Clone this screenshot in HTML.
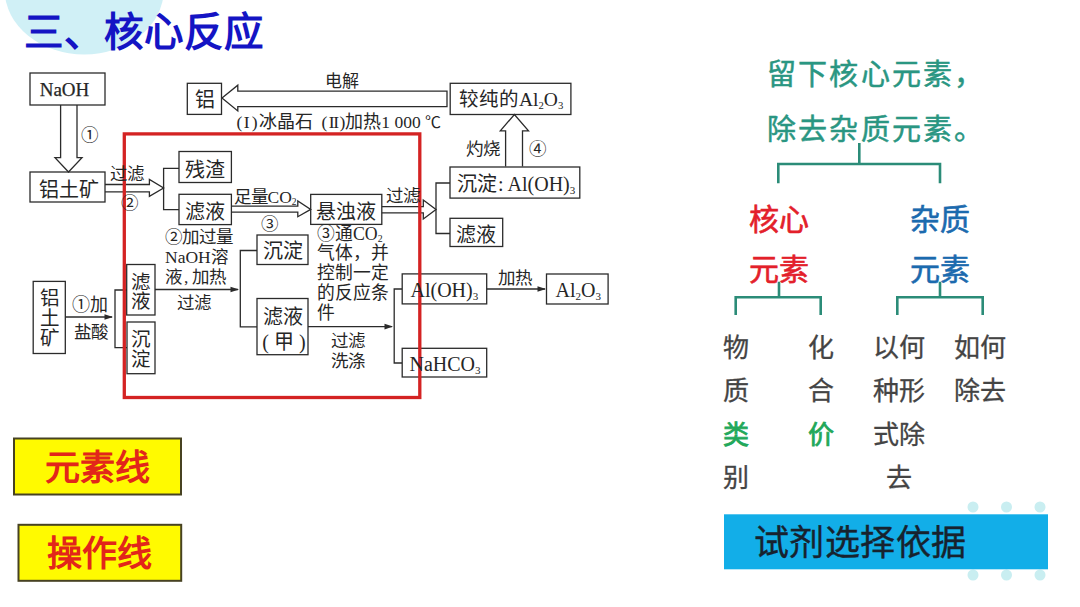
<!DOCTYPE html>
<html lang="zh-CN">
<head>
<meta charset="utf-8">
<style>
html,body{margin:0;padding:0;background:#fff;}
body{width:1080px;height:607px;position:relative;overflow:hidden;font-family:"Liberation Sans",sans-serif;}
.a{position:absolute;white-space:nowrap;}
.s{font-family:"Liberation Serif",serif;color:#262626;}
svg{position:absolute;left:0;top:0;}
.c{transform:translate(-50%,-50%);}
sub{font-size:62%;vertical-align:-0.25em;line-height:0;}
</style>
</head>
<body>
<svg width="1080" height="607" viewBox="0 0 1080 607">
  <ellipse cx="84.2" cy="-10" rx="79.5" ry="64.5" fill="#d0f0f6"/>
  <g fill="#c9eef1">
    <ellipse cx="973" cy="507" rx="5.5" ry="5.5"/>
    <ellipse cx="1006.5" cy="507" rx="5.5" ry="5.5"/>
    <ellipse cx="1040" cy="507" rx="5.5" ry="5.5"/>
    <ellipse cx="973" cy="575" rx="5.5" ry="5.5"/>
    <ellipse cx="1006.5" cy="575" rx="5.5" ry="5.5"/>
    <ellipse cx="1040" cy="575" rx="5.5" ry="5.5"/>
  </g>
  <g fill="none" stroke="#2b2b2b" stroke-width="1.3">
    <rect x="30" y="73" width="75" height="32"/>
    <path d="M60.6 105 V157.6 H55 L68.5 172 L82 157.6 H77 V105"/>
    <rect x="30" y="172" width="75" height="30"/>
    <path d="M105 184.5 H149.4 V179.5 L163.6 188 L149.4 196.3 V191.8 H105"/>
    <path d="M179 168.3 H163.6 V209.6 H179"/>
    <rect x="179" y="151.5" width="52.4" height="31"/>
    <rect x="179" y="194.3" width="52.4" height="30.3"/>
    <path d="M231.4 206.2 H297.8 V201 L310.7 209.4 L297.8 216.7 V212.2 H231.4"/>
    <rect x="310.7" y="194.4" width="71.1" height="30"/>
    <path d="M381.8 206.7 H423.3 V200 L436 209.6 L423.3 218.9 V212.9 H381.8"/>
    <path d="M450 183 H436 V233.5 H450"/>
    <rect x="450" y="167" width="129.8" height="31.1"/>
    <rect x="450" y="218.3" width="52.7" height="28.2"/>
    <path d="M505.6 166.4 V130.8 H500.3 L514.4 114.5 L528.5 130.8 H522.5 V166.4"/>
    <rect x="450.2" y="83.3" width="120.7" height="31.2"/>
    <path d="M447 91.1 H237.8 V85.2 L222 98.1 L237.8 111 V106.6 H447 Z"/>
    <rect x="187.3" y="83.3" width="34.2" height="31.1"/>
    <rect x="33.2" y="281.4" width="32.1" height="72.1"/>
    <path d="M65.3 317 H112"/>
    <path d="M127 290 H115 V347.6 H127"/>
    <rect x="126.7" y="264.5" width="28.3" height="50.5"/>
    <rect x="127" y="322" width="28" height="51.7"/>
    <path d="M155 289.5 H238"/>
    <path d="M257 250.5 H240.3 V326.8 H257"/>
    <rect x="257" y="235" width="51" height="29.5"/>
    <rect x="257" y="298.5" width="51" height="56.2"/>
    <path d="M308 326.6 H392"/>
    <path d="M402 289 H394.2 V363 H402"/>
    <rect x="402.2" y="273.9" width="84.5" height="30"/>
    <rect x="402.2" y="348.3" width="84.5" height="28.7"/>
    <path d="M486.7 289 H545"/>
    <rect x="546.5" y="274" width="61.6" height="30"/>
  </g>
  <g fill="#2b2b2b">
    <path d="M113 317 L104.5 314.2 L104.5 319.8 Z"/>
    <path d="M239 289.5 L230.5 286.7 L230.5 292.3 Z"/>
    <path d="M393 326.6 L384.5 323.8 L384.5 329.4 Z"/>
    <path d="M546 289 L537.5 286.2 L537.5 291.8 Z"/>
  </g>
  <rect x="124.3" y="133.9" width="295.5" height="263.6" fill="none" stroke="#d42323" stroke-width="3.3"/>
  <!-- teal trees -->
  <g fill="none" stroke="#2b8c78" stroke-width="2.6">
    <path d="M859.3 143 V164 M778.3 183.3 V164 H940 V183.3"/>
    <path d="M779 281.7 V297.3 M735.7 315 V297.3 H820.7 V315"/>
    <path d="M940 281.7 V297.3 M897.3 315 V297.3 H982.7 V315"/>
  </g>
  <rect x="14" y="438.5" width="167" height="56" fill="#fffa00" stroke="#474222" stroke-width="2"/>
  <rect x="18.5" y="524.8" width="162.7" height="56" fill="#fffa00" stroke="#474222" stroke-width="2"/>
  <rect x="724" y="514.3" width="324" height="55" fill="#12aee8"/>
</svg>

<!-- title -->
<div class="a" style="left:24px;top:7px;font-size:39.5px;line-height:50px;font-weight:bold;color:#1414c4;">三、核心反应</div>

<!-- diagram text -->
<div class="a s c" style="left:64.5px;top:90px;font-size:19px;-webkit-text-stroke:0.25px #262626;">NaOH</div>
<div class="a s c" style="left:89.4px;top:132.5px;font-size:17.5px;">①</div>
<div class="a s c" style="left:68.5px;top:187.5px;font-size:20px;">铝土矿</div>
<div class="a s c" style="left:127.4px;top:172.2px;font-size:17.5px;">过滤</div>
<div class="a s c" style="left:129.4px;top:200.7px;font-size:17.5px;">②</div>
<div class="a s c" style="left:205px;top:167.5px;font-size:20px;">残渣</div>
<div class="a s c" style="left:205px;top:209.8px;font-size:20px;">滤液</div>
<div class="a s" style="left:233.5px;top:186px;font-size:17.5px;line-height:22px;">足量CO<sub style="font-size:55%">2</sub></div>
<div class="a s c" style="left:269.5px;top:222px;font-size:17.5px;">③</div>
<div class="a s c" style="left:346px;top:209.6px;font-size:20px;">悬浊液</div>
<div class="a s c" style="left:402.8px;top:194px;font-size:17.5px;">过滤</div>
<div class="a s" style="left:457px;top:172.5px;font-size:20px;line-height:22px;">沉淀<span style="margin-left:1px">:</span><span style="margin-left:4px">Al(OH)<sub style="font-size:55%">3</sub></span></div>
<div class="a s c" style="left:476.3px;top:232.6px;font-size:20px;">滤液</div>
<div class="a s c" style="left:482.6px;top:147px;font-size:17.5px;">灼烧</div>
<div class="a s c" style="left:537.3px;top:146.5px;font-size:17.5px;">④</div>
<div class="a s" style="left:459px;top:88.5px;font-size:19.5px;line-height:22px;">较纯的Al<sub style="font-size:55%">2</sub>O<sub style="font-size:55%">3</sub></div>
<div class="a s c" style="left:342px;top:79.4px;font-size:17px;">电解</div>
<div class="a s" style="left:236.5px;top:110.5px;font-size:17.5px;line-height:22px;">(<span style="margin-left:1.5px">I</span><span style="margin-left:2px">)</span><span style="font-size:18px;margin-left:2px">冰晶石</span><span style="margin-left:8px">(</span><span style="margin-left:1.5px;letter-spacing:-1.5px">II</span><span style="margin-left:2px">)</span><span style="font-size:18px">加热</span>1 000<span style="font-size:16px;margin-left:4px">℃</span></div>
<div class="a s c" style="left:204.6px;top:97.6px;font-size:20px;">铝</div>
<div class="a s c" style="left:49.5px;top:319.3px;font-size:19.5px;line-height:20px;white-space:normal;width:20px;text-align:center;">铝土矿</div>
<div class="a s c" style="left:89.6px;top:302.8px;font-size:18px;">①加</div>
<div class="a s c" style="left:90.6px;top:329.7px;font-size:17.5px;">盐酸</div>
<div class="a s c" style="left:141px;top:291.5px;font-size:19.5px;line-height:19.5px;white-space:normal;width:20px;text-align:center;">滤液</div>
<div class="a s c" style="left:141px;top:349.3px;font-size:19.5px;line-height:19.5px;white-space:normal;width:20px;text-align:center;">沉淀</div>
<div class="a s" style="left:165px;top:226.5px;font-size:17.5px;line-height:20.2px;">②加过量<br>NaOH溶<br>液<span style="margin:0 3.5px 0 2px">,</span>加热</div>
<div class="a s c" style="left:194px;top:300.7px;font-size:17.5px;">过滤</div>
<div class="a s c" style="left:282.5px;top:249px;font-size:20px;">沉淀</div>
<div class="a s c" style="left:282.5px;top:315px;font-size:20px;">滤液</div>
<div class="a s c" style="left:284px;top:339.5px;font-size:20px;">(&nbsp;甲&nbsp;)</div>
<div class="a s" style="left:317px;top:224.5px;font-size:17.8px;line-height:19.75px;">③通CO<sub style="font-size:55%">2</sub><br>气体，并<br>控制一定<br>的反应条<br>件</div>
<div class="a s c" style="left:348px;top:338.8px;font-size:17.5px;">过滤</div>
<div class="a s c" style="left:348px;top:358.7px;font-size:17.5px;">洗涤</div>
<div class="a s" style="left:410.5px;top:278.5px;font-size:20px;line-height:22px;">Al(OH)<sub style="font-size:55%">3</sub></div>
<div class="a s c" style="left:515.2px;top:276.2px;font-size:17.5px;">加热</div>
<div class="a s" style="left:555.5px;top:278.5px;font-size:20px;line-height:22px;">Al<sub style="font-size:55%">2</sub>O<sub style="font-size:55%">3</sub></div>
<div class="a s" style="left:409.5px;top:352.5px;font-size:20px;line-height:22px;">NaHCO<sub style="font-size:55%">3</sub></div>

<!-- yellow labels -->
<div class="a c" style="left:97.5px;top:464.2px;font-size:35px;font-weight:bold;color:#e2261a;">元素线</div>
<div class="a c" style="left:99.5px;top:550px;font-size:35px;font-weight:bold;color:#e2261a;">操作线</div>

<!-- right side -->
<div class="a" style="left:767px;top:56.5px;font-size:29px;line-height:36px;letter-spacing:2.2px;color:#2a9682;-webkit-text-stroke:0.5px #2a9682;">留下核心元素，</div>
<div class="a" style="left:767px;top:111.5px;font-size:29px;line-height:36px;letter-spacing:2.2px;color:#2a9682;-webkit-text-stroke:0.5px #2a9682;">除去杂质元素。</div>
<div class="a c" style="left:779.3px;top:217.3px;font-size:30px;color:#e3202a;-webkit-text-stroke:0.6px #e3202a;letter-spacing:0.6px;">核心</div>
<div class="a c" style="left:779.3px;top:266.5px;font-size:30px;color:#e3202a;-webkit-text-stroke:0.6px #e3202a;letter-spacing:0.6px;">元素</div>
<div class="a c" style="left:940.3px;top:217.3px;font-size:30px;color:#1b6aae;-webkit-text-stroke:0.6px #1b6aae;letter-spacing:0.6px;">杂质</div>
<div class="a c" style="left:940.3px;top:266.5px;font-size:30px;color:#1b6aae;-webkit-text-stroke:0.6px #1b6aae;letter-spacing:0.6px;">元素</div>

<div class="a" style="left:723px;top:326.5px;font-size:26px;line-height:43.5px;color:#444;-webkit-text-stroke:0.3px #444;">物<br>质<br><span style="color:#22a85a;-webkit-text-stroke:0.8px #22a85a">类</span><br>别</div>
<div class="a" style="left:808px;top:326.5px;font-size:26px;line-height:43.5px;color:#444;-webkit-text-stroke:0.3px #444;">化<br>合<br><span style="color:#22a85a;-webkit-text-stroke:0.8px #22a85a">价</span></div>
<div class="a" style="left:873px;top:326.5px;font-size:26px;line-height:43.5px;color:#444;text-align:center;-webkit-text-stroke:0.3px #444;">以何<br>种形<br>式除<br>去</div>
<div class="a" style="left:954px;top:326.5px;font-size:26px;line-height:43.5px;color:#444;-webkit-text-stroke:0.3px #444;">如何<br>除去</div>

<div class="a" style="left:754px;top:523px;font-size:35px;line-height:40px;letter-spacing:0.4px;color:#17222e;-webkit-text-stroke:0.4px #17222e;">试剂选择依据</div>
</body>
</html>
